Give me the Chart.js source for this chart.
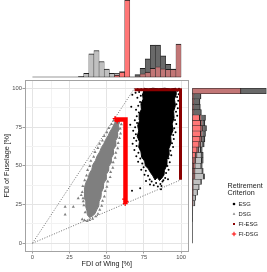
<!DOCTYPE html>
<html><head><meta charset="utf-8">
<script src="https://cdn.jsdelivr.net/npm/chart.js@4/dist/chart.umd.min.js"></script>
<style>
html,body{margin:0;padding:0;background:#fff;width:267px;height:272px;overflow:hidden}
canvas{position:absolute;left:0;top:0}
.lg{position:absolute;font-family:"Liberation Sans",Arial,sans-serif;white-space:nowrap;color:#1a1a1a}
.lt{font-size:7.2px;line-height:8px;left:227.5px}
.li{font-size:5.8px;line-height:8px;left:238.5px}
.lm{position:absolute;left:230px}
</style></head><body>
<canvas id="topHist" width="267" height="272"></canvas>
<canvas id="rightHist" width="267" height="272"></canvas>
<canvas id="main" width="267" height="272"></canvas>
<div id="legend"></div>
<script>
// ---------------- data ----------------
const binCenters = [1.72,5.17,8.62,12.07,15.52,18.97,22.41,25.86,29.31,32.76,36.21,39.66,43.10,46.55,50.00,53.45,56.90,60.34,63.79,67.24,70.69,74.14,77.59,81.03,84.48,87.93,91.38,94.83,98.28];
const binRange = [0, 100];
const tickValues = [0, 25, 50, 75, 100];

// top histogram (FDI of wing), counts per bin
const wingESG   = [0,0,0,0,0,0,0,0,0,0,0,0,0,0,0,0,0,0,0,6,44,106,260,460,426,252,100,6,0];
const wingDSG   = [0,0,0,0,0,0,0,0,0,20,80,466,534,314,166,80,34,6,0,0,0,0,0,0,0,0,0,0,0];
const wingFIESG = [0,0,0,0,0,0,0,0,0,0,0,0,0,0,0,0,0,0,0,0,10,74,106,180,214,174,160,160,660];
const wingFIDSG = [0,0,0,0,0,0,0,0,0,0,0,0,0,0,0,0,46,106,1540,0,0,0,0,0,0,0,0,0,0];

// right histogram (FDI of fuselage), counts per bin
const fuseESG   = [0,0,0,0,0,0,0,0,0,0,0,8,17,22,28,42,48,42,56,62,64,78,56,106,200,170,160,190,720];
const fuseDSG   = [0,0,0,0,8,8,14,53,70,120,168,224,252,207,168,168,126,56,42,28,28,28,20,14,0,0,0,0,0];
const fuseFIESG = [0,0,0,0,0,0,0,0,0,0,0,0,42,42,42,42,42,42,42,42,42,42,42,42,56,56,56,56,1372];
const fuseFIDSG = [0,0,0,0,0,0,0,22,22,28,28,28,34,36,42,56,92,140,196,224,238,252,238,210,0,0,0,0,0];

// scatter: dense cores (outline of the point clouds) and scattered points [wing, fuselage]
const esgCore = [[75,100],[78,99.5],[81,100],[85,99.6],[89,100],[93,99.5],[96.5,100],[96.8,96],[95.5,93],[96.2,89],[95,85],[95.3,81],[94,77],[94.6,73],[93,69],[93.3,65],[91.8,61],[92,57],[90.5,54],[90.3,50],[88.8,47],[88.5,44],[87,42],[85.5,40.5],[84,42.5],[82.5,40.8],[81,43.5],[79.5,45.5],[78,48],[76,50],[75.5,53],[73.5,55.5],[73,59],[71.5,62],[72,65.5],[70.5,69],[71.5,72.5],[70.8,76],[72.3,79.5],[71.8,83],[73.3,86.5],[73,90],[74.5,93],[74,96.5]];
const esgScatter = [[73.2,99.3],[71.8,97.6],[72.9,95.1],[70.6,93.8],[72.4,91.2],[71.2,88.7],[69.7,86.1],[71.6,84.4],[70.2,81.9],[68.9,79.3],[70.4,77.6],[69.1,74.8],[67.8,72.6],[69.6,70.3],[68.3,67.9],[69.9,66.1],[67.4,64.2],[70.1,62.7],[68.6,60.1],[71.3,58.4],[69.9,56.2],[72.6,54.7],[71.1,52.6],[73.9,51.4],[74.8,49.1],[73.2,47.5],[76.3,46.8],[75.4,44.2],[77.8,43.6],[78.9,41.2],[80.2,39.8],[79.1,37.9],[81.6,37.4],[83.2,38.9],[84.4,36.6],[86.1,38.2],[87.5,39.9],[86.8,36.9],[89.3,42.1],[88.1,40.6],[89.9,45.3],[91.6,47.4],[90.8,49.8],[92.4,52.3],[91.5,54.9],[93.4,56.8],[92.8,59.6],[94.6,62.1],[93.9,64.5],[95.1,67.3],[94.7,69.9],[96.3,71.6],[95.4,74.2],[96.8,76.9],[95.9,79.5],[97.4,82.3],[96.6,84.8],[97.8,87.1],[96.9,89.6],[98.1,91.9],[97.3,94.3],[98.4,96.2],[97.6,98.4],[98.6,99.6],[72.5,35.5],[67,33.8],[66.5,88],[65.8,76.5],[67.2,95.8],[76.4,40.2],[91.2,41.3],[86.5,34.9],[70.8,99.4],[69.4,97.1]];
const dsgCore = [[57.6,80.8],[58.8,78.6],[57.9,76.2],[58.4,73.5],[57.1,71.2],[57.3,68.4],[55.8,65.9],[56.0,62.8],[54.4,60.3],[54.5,57.4],[53.1,54.9],[52.9,51.8],[51.4,49.6],[51.2,46.7],[49.6,44.3],[49.5,41.1],[48.0,38.7],[47.6,35.4],[46.4,32.8],[46.1,29.6],[44.9,27.1],[44.6,24.0],[43.3,21.6],[42.1,19.1],[40.2,17.4],[38.4,16.6],[37.0,18.2],[36.6,21.0],[35.8,23.9],[35.9,26.8],[34.8,29.6],[34.7,33.0],[35.3,36.0],[36.0,39.2],[37.4,41.9],[38.3,45.0],[39.9,47.6],[40.7,50.8],[42.4,53.4],[43.5,56.3],[45.2,58.9],[46.4,61.8],[48.0,64.2],[49.3,67.0],[50.9,69.4],[52.2,72.1],[53.8,74.5],[55.0,77.1],[56.4,79.4]];
const dsgScatter = [[22,23.5],[27.5,23.5],[22,18.5],[33.5,15.5],[35,14.8],[36.8,14.3],[38.5,15],[40.5,15.8],[42.7,17.3],[44.1,18.9],[45.3,21.6],[46.6,24.2],[47.2,27.3],[48.4,30.1],[48.9,33.6],[50.1,36.4],[50.7,39.8],[52.3,42.6],[52.6,45.9],[54.1,48.7],[54.3,52.2],[55.7,55.1],[56.1,58.4],[57.4,61.3],[57.7,64.6],[58.6,67.9],[59.3,70.8],[59.1,73.9],[59.8,76.7],[34,29],[33.5,33],[32.8,31],[30.8,29],[33.9,36.8],[35.2,40.6],[36.4,43.7],[37.1,47.2],[38.6,49.8],[39.3,53.1],[41.2,55.7],[42.1,58.8],[44.0,61.4],[45.2,64.1],[47.1,66.3],[48.3,69.2],[50.1,71.6],[51.4,74.3],[53.2,76.8],[54.6,79.2],[35.5,20],[34.6,24.5],[34.2,27.1],[44,24],[36,33.5]];
const fiEsgPath = [[68.7,99.1],[99.6,99.1],[99.6,41]];
const fiDsgPath = [[55.3,79.8],[62.6,79.8],[62.6,25.8]];
const fiDsgScatter = [[62.4,25.6],[63,27],[62,28.5],[55.6,80.5],[57,78.8]];
const envelopeUpper = [[0,0],[68.7,100]];
const envelopeLower = [[0,0],[99.6,40.8]];

const seriesNames = ['ESG','DSG','FI-ESG','FI-DSG'];
const legendTitle = ['Retirement','Criterion'];
const xTitle = 'FDI of Wing [%]';
const yTitle = 'FDI of Fuselage [%]';

// ---------------- layout / style ----------------
const W = 267, H = 272;
const P = {left:25, right:188.5, top:80.5, bottom:251};
const TOP_BASE = 77.3, RIGHT_BASE = 192.3, RIGHT_END = 266.5;
const pts = a => a.map(p => ({x:p[0], y:p[1]}));
const barFill = {ESG:'#696969', DSG:'#c0c0c0', 'FI-ESG':'#c27676', 'FI-DSG':'#ff7676'};
const markColor = {ESG:'#000000', DSG:'#7f7f7f', 'FI-ESG':'#8b0000', 'FI-DSG':'#ff0000'};

function barSet(name, values, horizontal) {
  return {
    type:'bar', label:name,
    data: values.map((v,i) => horizontal ? {x:v, y:binCenters[i]} : {x:binCenters[i], y:v}),
    backgroundColor: barFill[name], borderColor:'#1f1f1f',
    borderWidth: horizontal ? {top:0.5,bottom:0.5,right:1,left:0} : {left:0.5,right:0.5,top:1,bottom:0},
    borderSkipped:'start', categoryPercentage:1, barPercentage:1, order:1
  };
}
const sumAt = (arrs, i) => arrs.reduce((s,a)=>s+a[i],0);
const topMax = Math.max(...binCenters.map((c,i)=>sumAt([wingESG,wingDSG,wingFIESG,wingFIDSG],i)));
const rightMax = Math.max(...binCenters.map((c,i)=>sumAt([fuseESG,fuseDSG,fuseFIESG,fuseFIDSG],i)));

const common = {responsive:false, animation:false, devicePixelRatio:1,
  plugins:{legend:{display:false}, tooltip:{enabled:false}}};

// top histogram
new Chart(document.getElementById('topHist'), {
  type:'bar',
  data:{datasets:[
    {type:'line', label:'base', data:[{x:binRange[0],y:0},{x:binRange[1],y:0}], borderColor:'#000', borderWidth:1, pointRadius:0, order:0},
    barSet('FI-DSG', wingFIDSG, false),
    barSet('FI-ESG', wingFIESG, false),
    barSet('DSG', wingDSG, false),
    barSet('ESG', wingESG, false)
  ]},
  options:Object.assign({}, common, {
    layout:{padding:{left:P.left, right:W-P.right, top:0, bottom:H-TOP_BASE}},
    scales:{
      x:{type:'linear', min:-5, max:105, display:false, stacked:true, offset:false},
      y:{type:'linear', min:0, max:topMax, display:false, stacked:true}
    }
  })
});

// right histogram
new Chart(document.getElementById('rightHist'), {
  type:'bar',
  data:{datasets:[
    {type:'line', label:'base', data:[{x:0,y:binRange[0]},{x:0,y:binRange[1]}], borderColor:'#000', borderWidth:1, pointRadius:0, order:0},
    barSet('FI-DSG', fuseFIDSG, true),
    barSet('FI-ESG', fuseFIESG, true),
    barSet('DSG', fuseDSG, true),
    barSet('ESG', fuseESG, true)
  ]},
  options:Object.assign({}, common, {
    indexAxis:'y',
    layout:{padding:{left:RIGHT_BASE, right:W-RIGHT_END, top:P.top, bottom:H-P.bottom}},
    scales:{
      y:{type:'linear', min:-5, max:105, display:false, stacked:true, offset:false},
      x:{type:'linear', min:0, max:rightMax, display:false, stacked:true}
    }
  })
});

// main scatter
const isMajor = v => tickValues.includes(v);
function axisOpts(isX) {
  return {
    type:'linear', min:-5, max:105,
    border:{display:false},
    grid:{
      color: c => isMajor(c.tick.value) ? '#e4e4e4' : '#f2f2f2',
      lineWidth:1, drawTicks:true, tickLength:2.5, tickWidth:1,
      tickColor: c => isMajor(c.tick.value) ? '#9e9e9e' : 'rgba(0,0,0,0)'
    },
    ticks:{
      stepSize:12.5, includeBounds:false, autoSkip:false, maxRotation:0, padding: isX ? 0 : 0.6,
      color:'#4d4d4d', font:{family:'"Liberation Sans", Arial, sans-serif', size:5.8},
      callback: v => isMajor(v) ? String(v) : ''
    },
    title:{display:true, text: isX ? xTitle : yTitle, color:'#1a1a1a',
      font:{family:'"Liberation Sans", Arial, sans-serif', size:7.2, lineHeight:1.2},
      padding: isX ? {top:0, bottom:3.6} : {top:2.4, bottom:0}},
    afterFit: s => { if (isX) s.height = H - P.bottom; else s.width = P.left; }
  };
}
const panelBorder = {id:'panelBorder', afterDraw(chart){
  const {ctx, chartArea:a} = chart;
  ctx.save(); ctx.strokeStyle='#a3a3a3'; ctx.lineWidth=1;
  ctx.strokeRect(Math.floor(a.left)+0.5, Math.floor(a.top)+0.5, Math.round(a.right-a.left)-1, Math.round(a.bottom-a.top));
  ctx.restore();
}};

new Chart(document.getElementById('main'), {
  type:'scatter',
  data:{datasets:[
    {label:'FI-DSG', data:pts(fiDsgPath), showLine:true, borderColor:markColor['FI-DSG'], borderWidth:4.5, pointRadius:0, borderJoinStyle:'miter', order:1},
    {label:'FI-DSG points', data:pts(fiDsgScatter), pointStyle:'cross', pointRadius:2.4, borderColor:markColor['FI-DSG'], borderWidth:1.2, order:1},
    {label:'FI-ESG', data:pts(fiEsgPath), showLine:true, borderColor:markColor['FI-ESG'], borderWidth:3, pointRadius:0, borderJoinStyle:'miter', order:2},
    {label:'DSG', data:pts(dsgScatter), pointStyle:'triangle', pointRadius:1.8, backgroundColor:markColor.DSG, borderWidth:0, order:3},
    {label:'DSG core', data:pts(dsgCore), showLine:true, fill:'shape', backgroundColor:markColor.DSG, borderColor:markColor.DSG, borderWidth:1, pointRadius:0, order:4},
    {label:'ESG', data:pts(esgScatter), pointStyle:'circle', pointRadius:1, backgroundColor:markColor.ESG, borderWidth:0, order:5},
    {label:'ESG core', data:pts(esgCore), showLine:true, fill:'shape', backgroundColor:markColor.ESG, borderColor:markColor.ESG, borderWidth:1, pointRadius:0, order:6},
    {label:'upper bound', data:pts(envelopeUpper), showLine:true, borderColor:'#4a4a4a', borderWidth:0.8, borderDash:[1,1.6], pointRadius:0, order:7},
    {label:'lower bound', data:pts(envelopeLower), showLine:true, borderColor:'#4a4a4a', borderWidth:0.8, borderDash:[1,1.6], pointRadius:0, order:7}
  ]},
  options:Object.assign({}, common, {
    layout:{padding:{left:0, right:W-P.right, top:P.top, bottom:0}},
    scales:{x:axisOpts(true), y:axisOpts(false)}
  }),
  plugins:[panelBorder]
});

// legend (HTML text, markers drawn with Chart.js point helper)
const lg = document.getElementById('legend');
legendTitle.forEach((t,i) => {
  const d = document.createElement('div'); d.className='lg lt'; d.style.top=(182+i*7)+'px'; d.textContent=t; lg.appendChild(d);
});
const styles = {ESG:['circle',1.3], DSG:['triangle',1.5], 'FI-ESG':['rect',1.4], 'FI-DSG':['cross',2.2]};
seriesNames.forEach((n,i) => {
  const cy = 204 + i*10;
  const c = document.createElement('canvas'); c.width=8; c.height=8; c.className='lm';
  c.style.left='230px'; c.style.top=(cy-4)+'px'; lg.appendChild(c);
  const ctx = c.getContext('2d');
  ctx.fillStyle = markColor[n]; ctx.strokeStyle = markColor[n]; ctx.lineWidth = 1;
  const [ps, r] = styles[n];
  try { Chart.helpers.drawPoint(ctx, {pointStyle:ps, radius:r, rotation:0, borderWidth: ps==='cross'?1:0}, 4, 4); }
  catch(e) { ctx.beginPath(); ctx.arc(4,4,r,0,Math.PI*2); ctx.fill(); }
  const t = document.createElement('div'); t.className='lg li'; t.style.top=(cy-4)+'px'; t.textContent=n; lg.appendChild(t);
});
</script>
</body></html>
